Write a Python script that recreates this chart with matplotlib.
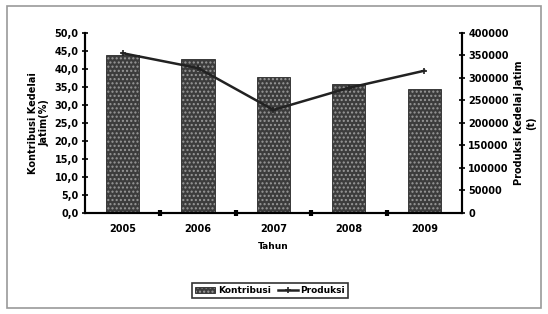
import matplotlib.pyplot as plt
import numpy as np
from matplotlib.patches import Rectangle

tahun = ['2005', '2006', '2007', '2008', '2009']
kontribusi = [43.9, 42.7, 37.9, 35.7, 34.4]
produksi = [355000, 322000, 229000, 278000, 316000]

fig = plt.figure(figsize=(5.48, 3.14), dpi=100)
ax = fig.add_axes([0.155, 0.322, 0.688, 0.573])
ax2 = ax.twinx()

x = np.arange(len(tahun))
bars = ax.bar(x, kontribusi, width=0.44, color='#3c3c3c', edgecolor='#2a2a2a',
              hatch='....', linewidth=0.6, label='Kontribusi')
for b in bars:
    b._hatch_color = (0.6, 0.6, 0.6, 1.0)

ax2.plot(x, produksi, color='#222222', lw=1.8, marker='+', ms=5, mew=1.2,
         label='Produksi')

ax.set_xlim(-0.5, len(tahun) - 0.5)
ax.set_ylim(0, 50)
ax2.set_ylim(0, 400000)

ax.set_yticks(np.arange(0, 50.1, 5))
ax.set_yticklabels([f'{v:.1f}'.replace('.', ',') for v in np.arange(0, 50.1, 5)])
ax2.set_yticks(np.arange(0, 400001, 50000))
ax2.set_yticklabels([str(int(v)) for v in np.arange(0, 400001, 50000)])

ax.set_xticks(x)
ax.set_xticklabels(tahun)
ax.set_xticks(np.arange(0.5, len(tahun) - 1, 1), minor=True)
ax.tick_params(axis='x', which='major', length=0, pad=8)
ax.tick_params(axis='x', which='minor', length=4, width=3, direction='inout')

for a in (ax, ax2):
    a.spines['top'].set_visible(False)
    for s in ('left', 'right', 'bottom'):
        a.spines[s].set_linewidth(1.5)
ax.tick_params(axis='y', direction='inout', length=5, width=1.2, labelsize=7, pad=2)
ax2.tick_params(axis='y', direction='inout', length=5, width=1.2, labelsize=7, pad=2)
for lab in ax.get_yticklabels() + ax2.get_yticklabels() + ax.get_xticklabels():
    lab.set_fontweight('bold')
    lab.set_fontsize(7)

ax.set_ylabel('Kontribusi Kedelai\nJatim(%)', fontsize=7, fontweight='bold', labelpad=4)
ax2.set_ylabel('Produksi Kedelai Jatim\n(t)', fontsize=7, fontweight='bold',
               rotation=90, labelpad=4)
ax.set_xlabel('Tahun', fontsize=6.5, fontweight='bold', labelpad=6)

h1, l1 = ax.get_legend_handles_labels()
h2, l2 = ax2.get_legend_handles_labels()
leg = fig.legend(h1 + h2, l1 + l2, loc='center', bbox_to_anchor=(0.493, 0.075),
                 ncol=2, fontsize=6.5, frameon=True, fancybox=False,
                 edgecolor='black', handlelength=2.2, columnspacing=0.8,
                 borderpad=0.35, handletextpad=0.3)
leg.get_frame().set_linewidth(1.2)
for t in leg.get_texts():
    t.set_fontweight('bold')

fig.patches.append(Rectangle((0.012, 0.02), 0.976, 0.96, transform=fig.transFigure,
                             fill=False, edgecolor='#999999', lw=1.2))

fig.savefig('out.png', dpi=100)
